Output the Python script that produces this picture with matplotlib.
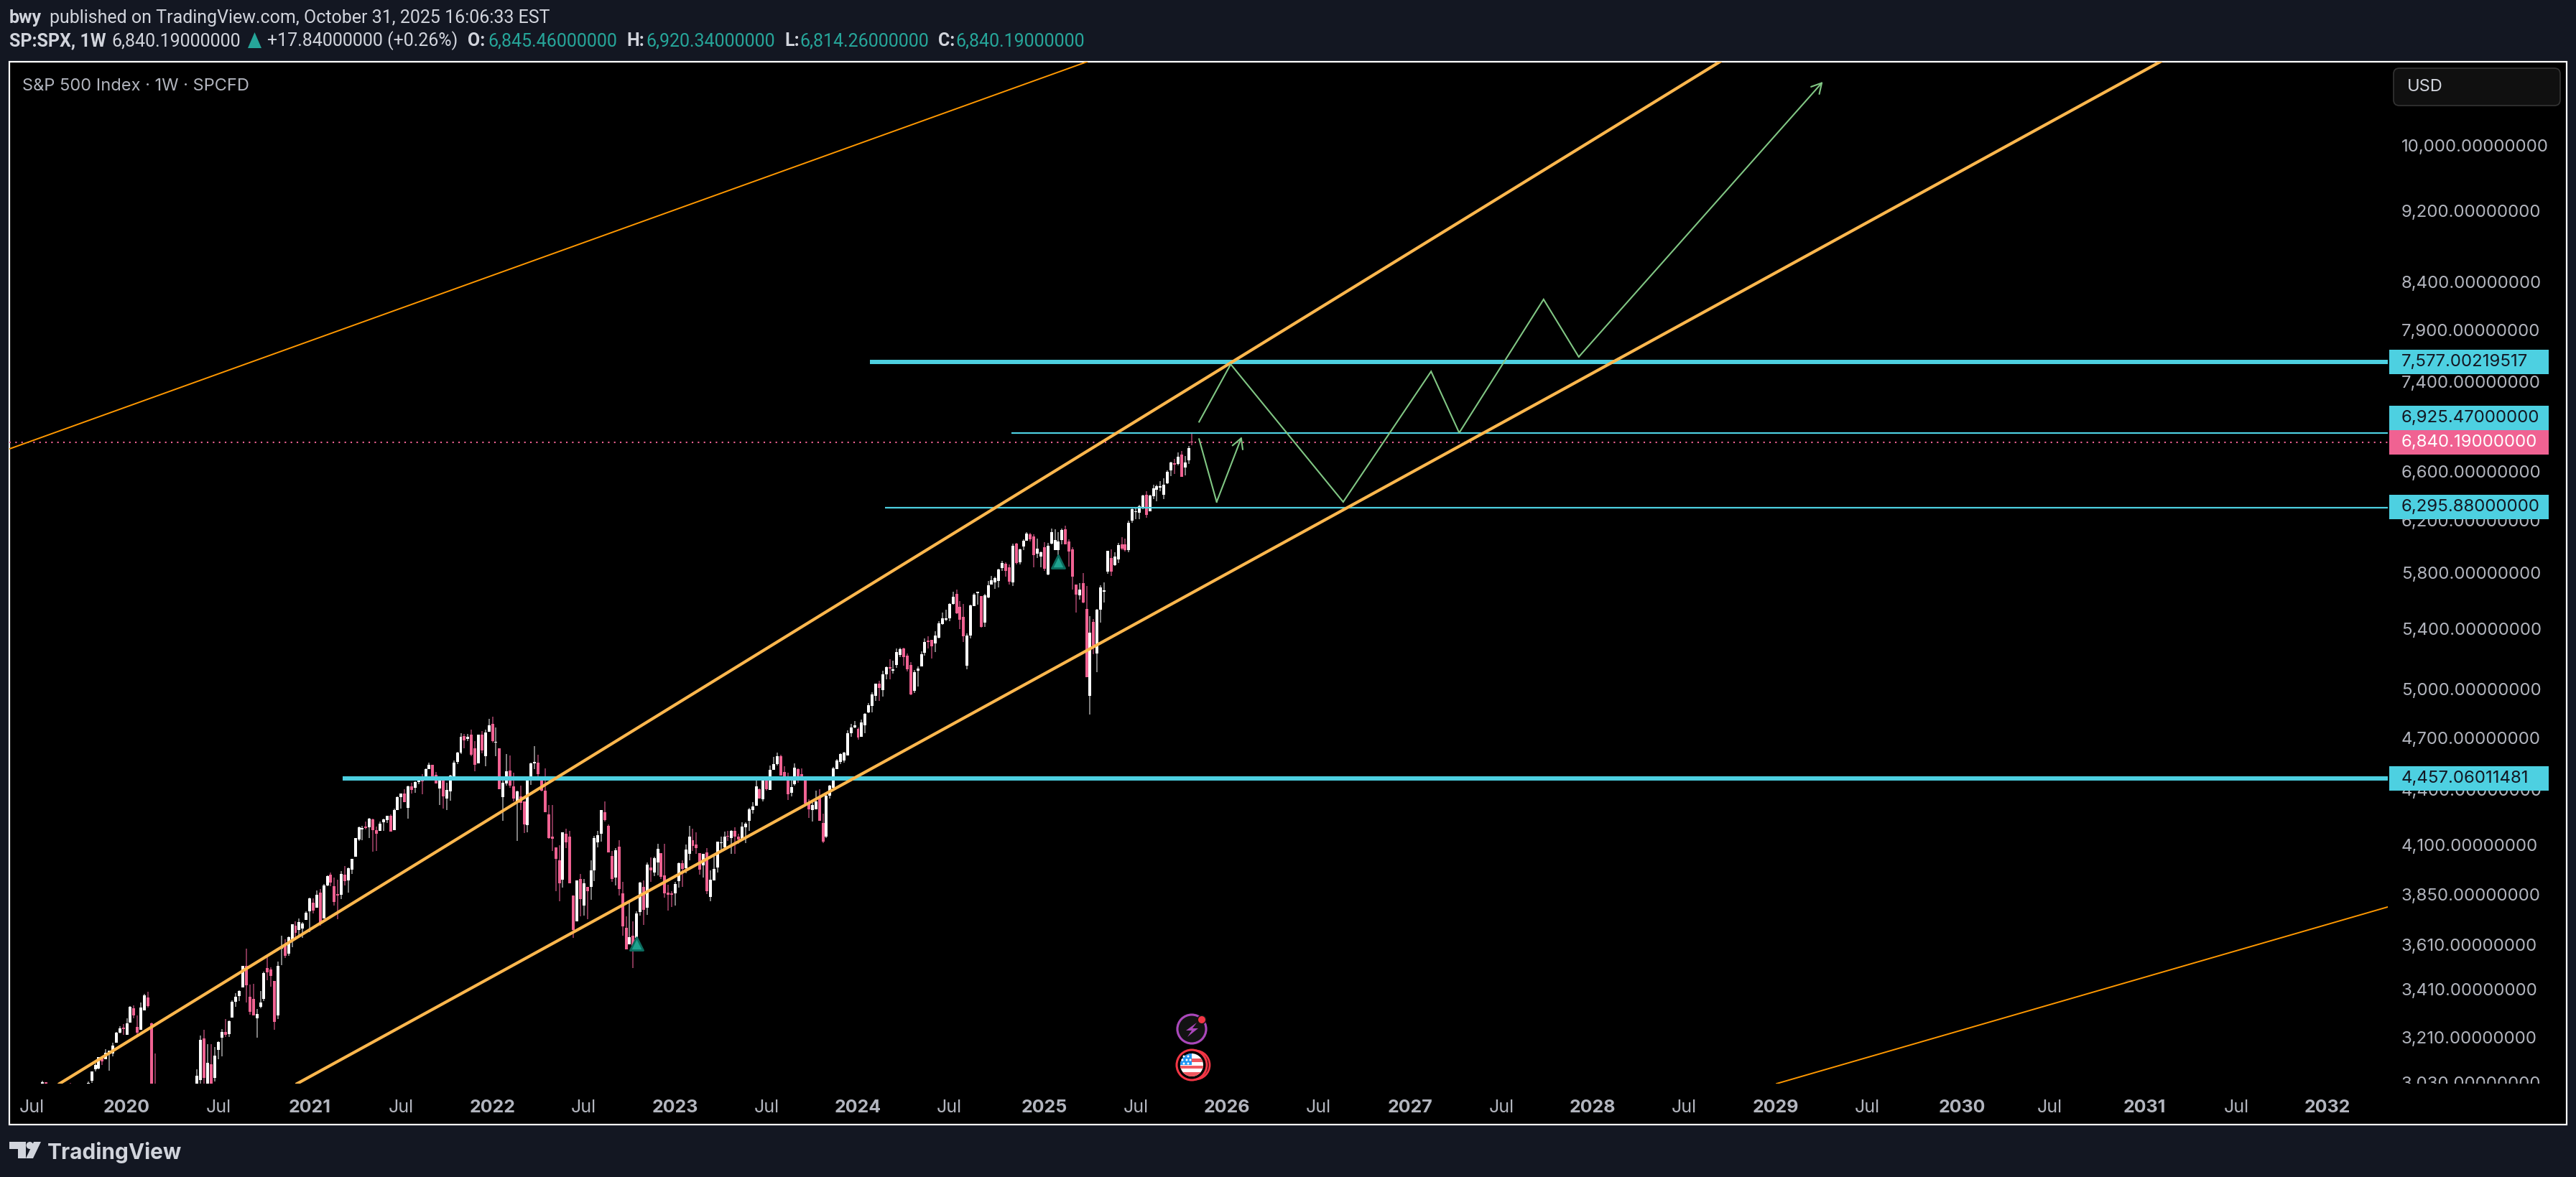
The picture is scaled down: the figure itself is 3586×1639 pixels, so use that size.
import numpy as np
import pandas as pd
import matplotlib
matplotlib.use("Agg")
import matplotlib.pyplot as plt
import matplotlib.dates as mdates
from matplotlib.patches import Circle, Polygon, Rectangle, FancyBboxPatch
from matplotlib.transforms import Bbox

plt.rcParams['font.family'] = ['Inter', 'DejaVu Sans']

# weekly candles, newest first. None = bar is below the visible price range
last_week = '2025-10-27'
opens = [
    6845.46, 6687, 6625, 6737, 6656, 6662, 6602, 6495, 6400, 6460,
    6442, 6389, 6267, 6401, 6296, 6256, 6258, 6194, 5965, 6008,
    6008, 5894, 5851, 5905, 5802, 5658, 5527, 5228, 5443, 4954,
    5532, 5719, 5631, 5708, 5970, 6030, 6125, 6041, 5965, 5965,
    6014, 5781, 5986, 5916, 5937, 6068, 6085, 6036, 5992, 5873,
    6014, 5724, 5835, 5862, 5829, 5734, 5724, 5708, 5615, 5438,
    5625, 5647, 5553, 5349, 5148, 5477, 5548, 5641, 5568, 5467,
    5459, 5428, 5334, 5295, 5320, 5315, 5233, 5144, 5115, 4985,
    5152, 5214, 5261, 5219, 5152, 5116, 5138, 5091, 4990, 5030,
    4954, 4891, 4851, 4772, 4703, 4750, 4758, 4723, 4590, 4560,
    4553, 4512, 4405, 4362, 4138, 4213, 4358, 4287, 4283, 4319,
    4446, 4484, 4512, 4426, 4377, 4463, 4496, 4586, 4541, 4508,
    4393, 4455, 4342, 4397, 4307, 4283, 4225, 4189, 4126, 4141,
    4171, 4134, 4145, 4085, 4104, 3981, 3916, 3833, 4058, 3991,
    4054, 4099, 4122, 4051, 3976, 4002, 3912, 3850, 3850, 3855,
    3941, 4054, 4006, 3955, 3981, 3782, 3883, 3761, 3638, 3648,
    3609, 3686, 3851, 4088, 3929, 4039, 4197, 4270, 4156, 4111,
    3966, 3883, 3883, 3791, 3922, 3717, 3840, 4138, 4156, 3920,
    4017, 4085, 4138, 4260, 4389, 4464, 4549, 4545, 4459, 4201,
    4330, 4358, 4330, 4414, 4504, 4430, 4354, 4633, 4665, 4780,
    4733, 4586, 4715, 4545, 4633, 4715, 4689, 4706, 4607, 4553,
    4463, 4385, 4346, 4451, 4401, 4480, 4537, 4512, 4451, 4463,
    4438, 4405, 4414, 4295, 4373, 4354, 4283, 4174, 4252, 4229,
    4217, 4171, 4175, 4233, 4189, 4193, 4178, 4126, 4036, 3970,
    3916, 3945, 3844, 3847, 3887, 3945, 3889, 3731, 3855, 3782,
    3806, 3765, 3724, 3683, 3676, 3696, 3631, 3567, 3606, 3588,
    3297, 3445, 3495, 3501, 3367, 3333, 3285, 3366, 3376, 3511,
    3415, 3379, 3355, 3288, 3219, 3228, 3204, 3155, 3045, 3097,
    3010, 3201, 3037, 3000] + [None] * 11 + [
    2974, 3262, 3373, 3317, 3237, 3249, 3326, 3267, 3216, 3246,
    3225, 3183, 3140, 3146, 3117, 3120, 3082, 3079, 3033, 3000] + [None] * 4 + [
    2990] + [None] * 6 + [3027, 3010]
highs = [
    6920.34, 6811, 6724, 6768, 6755, 6699, 6675, 6602, 6537, 6513,
    6483, 6483, 6401, 6430, 6401, 6318, 6296, 6290, 6194, 6052,
    6063, 6019, 5948, 5970, 5959, 5724, 5704, 5532, 5463, 5482,
    5698, 5791, 5719, 5708, 5985, 6046, 6153, 6130, 6102, 6125,
    6130, 6019, 6025, 5954, 6052, 6085, 6096, 6102, 6046, 5976,
    6019, 6014, 5857, 5872, 5884, 5824, 5765, 5770, 5734, 5641,
    5625, 5656, 5646, 5563, 5364, 5568, 5589, 5672, 5656, 5573,
    5527, 5507, 5448, 5379, 5320, 5344, 5329, 5243, 5144, 5119,
    5171, 5228, 5266, 5266, 5261, 5182, 5191, 5144, 5115, 5049,
    5030, 4977, 4909, 4846, 4806, 4758, 4797, 4780, 4740, 4610,
    4603, 4570, 4525, 4422, 4374, 4264, 4397, 4389, 4327, 4342,
    4471, 4516, 4516, 4545, 4463, 4492, 4529, 4595, 4607, 4582,
    4533, 4459, 4463, 4401, 4451, 4327, 4295, 4217, 4217, 4156,
    4190, 4175, 4171, 4167, 4138, 4115, 4043, 3966, 4081, 4051,
    4054, 4164, 4180, 4197, 4099, 4017, 4006, 3908, 3862, 3894,
    4103, 4054, 4103, 4036, 4032, 4006, 3916, 3908, 3765, 3717,
    3809, 3741, 3908, 4122, 4081, 4066, 4205, 4330, 4283, 4171,
    4145, 4017, 3883, 3922, 3948, 3916, 3840, 4171, 4182, 4164,
    4095, 4085, 4310, 4310, 4515, 4472, 4597, 4644, 4549, 4464,
    4330, 4418, 4389, 4492, 4590, 4599, 4455, 4633, 4756, 4824,
    4810, 4745, 4737, 4715, 4677, 4745, 4719, 4719, 4723, 4610,
    4562, 4480, 4434, 4459, 4463, 4496, 4537, 4549, 4516, 4484,
    4471, 4442, 4434, 4418, 4397, 4373, 4358, 4291, 4260, 4252,
    4237, 4221, 4193, 4237, 4241, 4221, 4197, 4193, 4133, 4024,
    3981, 3988, 3962, 3919, 3931, 3956, 3941, 3897, 3873, 3865,
    3827, 3830, 3765, 3713, 3731, 3717, 3703, 3646, 3631, 3649,
    3530, 3445, 3504, 3555, 3485, 3400, 3324, 3433, 3430, 3590,
    3511, 3404, 3392, 3360, 3276, 3282, 3240, 3189, 3166, 3177,
    3177, 3237, 3213, 3078] + [None] * 11 + [
    3141, 3265, 3398, 3389, 3351, 3295, 3339, 3336, 3283, 3261,
    3252, 3228, 3183, 3152, 3157, 3129, 3125, 3100, 3070, 3031] + [None] * 4 + [
    3025] + [None] * 6 + [3027, 3033]
lows = [
    6814.26, 6656, 6560, 6548, 6643, 6572, 6554, 6489, 6365, 6430,
    6347, 6365, 6267, 6216, 6284, 6205, 6205, 6177, 5949, 5954,
    5965, 5867, 5846, 5770, 5786, 5579, 5438, 5106, 5223, 4837,
    5072, 5574, 5600, 5507, 5672, 5841, 6008, 6008, 5927, 5965,
    6008, 5776, 5805, 5832, 5905, 5832, 6030, 6036, 5965, 5857,
    5857, 5698, 5708, 5764, 5808, 5687, 5677, 5708, 5610, 5408,
    5403, 5563, 5553, 5329, 5124, 5305, 5393, 5497, 5563, 5448,
    5448, 5423, 5329, 5238, 5196, 5261, 5214, 5144, 5011, 4971,
    4959, 5110, 5147, 5205, 5133, 5096, 5058, 5058, 4950, 4923,
    4923, 4851, 4846, 4721, 4703, 4685, 4754, 4703, 4590, 4547,
    4541, 4512, 4397, 4346, 4134, 4104, 4225, 4287, 4221, 4240,
    4319, 4451, 4434, 4418, 4358, 4338, 4446, 4475, 4533, 4508,
    4393, 4389, 4330, 4346, 4307, 4264, 4169, 4104, 4122, 4103,
    4051, 4051, 4119, 4078, 4074, 3956, 3916, 3812, 3847, 3930,
    3944, 4051, 4066, 4017, 3951, 3883, 3880, 3792, 3785, 3768,
    3830, 3923, 3941, 3937, 3908, 3748, 3700, 3744, 3638, 3501,
    3609, 3585, 3648, 3840, 3889, 3908, 4058, 4221, 4115, 4085,
    3912, 3819, 3726, 3744, 3741, 3717, 3638, 3901, 4078, 3880,
    3812, 3862, 4066, 4130, 4272, 4385, 4451, 4512, 4422, 4162,
    4158, 4283, 4119, 4330, 4405, 4418, 4223, 4397, 4586, 4669,
    4733, 4529, 4603, 4545, 4500, 4586, 4677, 4633, 4599, 4541,
    4451, 4332, 4283, 4291, 4311, 4430, 4459, 4512, 4451, 4370,
    4426, 4377, 4373, 4237, 4326, 4291, 4283, 4174, 4166, 4213,
    4171, 4171, 4066, 4062, 4134, 4178, 4122, 4118, 4036, 3948,
    3855, 3890, 3823, 3727, 3791, 3887, 3887, 3731, 3696, 3782,
    3754, 3665, 3724, 3639, 3648, 3636, 3596, 3557, 3547, 3514,
    3282, 3237, 3420, 3446, 3358, 3327, 3205, 3297, 3300, 3351,
    3415, 3358, 3333, 3288, 3207, 3207, 3129, 3118, 3030, 3000,
    3000, 3015, 3020, 2990] + [None] * 11 + [
    2855, 2855, 3330, 3317, 3237, 3216, 3285, 3267, 3216, 3216,
    3222, 3183, 3129, 3072, 3117, 3095, 3079, 3070, 3025, 2990] + [None] * 4 + [
    2960] + [None] * 6 + [3000, 3000]
closes = [
    6840.19, 6793, 6669, 6548, 6718, 6651, 6669, 6590, 6483, 6472,
    6472, 6454, 6395, 6239, 6395, 6307, 6267, 6284, 6177, 5965,
    5976, 6003, 5916, 5802, 5959, 5665, 5688, 5527, 5280, 5369,
    5072, 5579, 5672, 5636, 5765, 5954, 6008, 6119, 6030, 6041,
    6102, 5997, 5821, 5948, 5976, 5927, 6046, 6091, 6036, 5970,
    5867, 5997, 5729, 5807, 5867, 5818, 5755, 5738, 5703, 5630,
    5408, 5656, 5636, 5558, 5349, 5344, 5457, 5502, 5620, 5568,
    5467, 5467, 5433, 5349, 5275, 5306, 5305, 5224, 5129, 5105,
    4963, 5124, 5205, 5256, 5237, 5124, 5130, 5138, 5091, 5003,
    5030, 4963, 4896, 4842, 4789, 4698, 4770, 4758, 4723, 4607,
    4599, 4562, 4516, 4418, 4362, 4115, 4225, 4330, 4311, 4287,
    4319, 4451, 4455, 4520, 4409, 4370, 4463, 4475, 4586, 4541,
    4508, 4397, 4455, 4346, 4413, 4303, 4287, 4209, 4193, 4126,
    4138, 4171, 4138, 4141, 4111, 4115, 3973, 3920, 3862, 4051,
    3970, 4081, 4092, 4141, 4073, 3973, 4002, 3897, 3844, 3844,
    3851, 3934, 4076, 4028, 3966, 3995, 3772, 3905, 3754, 3582,
    3641, 3585, 3693, 3873, 4069, 3922, 4058, 4229, 4283, 4148,
    4134, 3966, 3862, 3901, 3823, 3916, 3676, 3901, 4108, 4164,
    3901, 4024, 4130, 4134, 4272, 4389, 4484, 4553, 4545, 4464,
    4205, 4322, 4385, 4346, 4418, 4500, 4434, 4397, 4672, 4677,
    4771, 4728, 4619, 4715, 4537, 4595, 4702, 4680, 4702, 4607,
    4549, 4475, 4393, 4358, 4459, 4430, 4459, 4537, 4512, 4442,
    4471, 4438, 4393, 4414, 4326, 4373, 4354, 4283, 4166, 4252,
    4233, 4209, 4156, 4175, 4237, 4185, 4185, 4190, 4133, 4024,
    3977, 3912, 3948, 3840, 3808, 3904, 3937, 3890, 3713, 3844,
    3768, 3827, 3758, 3707, 3713, 3662, 3703, 3642, 3557, 3593,
    3511, 3270, 3465, 3482, 3478, 3351, 3303, 3297, 3312, 3425,
    3511, 3401, 3376, 3355, 3273, 3216, 3228, 3186, 3132, 3020,
    3103, 3045, 3195, 3053] + [None] * 11 + [
    2972, 2954, 3336, 3383, 3330, 3225, 3297, 3333, 3264, 3240,
    3243, 3225, 3172, 3152, 3143, 3109, 3125, 3095, 3070, 3025] + [None] * 4 + [
    2980] + [None] * 6 + [3005, 3027]

# drawings
upper_channel_dates = ['2019-08-25', '2028-09-12']
upper_channel_prices = [3022, 11110]
lower_channel_dates = ['2020-12-10', '2031-02-06']
lower_channel_prices = [3022, 11110]
thin_top_dates = ['2019-05-17', '2025-04-01']
thin_top_prices = [6784, 11110]
thin_bottom_dates = ['2029-01-03', '2032-05-04']
thin_bottom_prices = [3022, 3785]

level_7577_start = '2024-01-25'
level_6925_start = '2024-11-02'
level_6296_start = '2024-02-23'
level_4457_start = '2021-03-10'
level_7577 = 7577.00219517
level_6925 = 6925.47
level_6296 = 6295.88
level_4457 = 4457.06011481
last_close = 6840.19

path_long_dates = ['2025-11-10', '2026-01-12', '2026-08-24', '2027-02-15', '2027-04-12',
                   '2027-09-27', '2027-12-06', '2029-04-05']
path_long_prices = [7022, 7557, 6341, 7488, 6925, 8208, 7628, 10830]
path_short_dates = ['2025-11-10', '2025-12-15', '2026-02-03']
path_short_prices = [6870, 6341, 6890]

signal_dates = ['2025-02-03', '2022-10-17']
signal_prices = [5877, 3612]

# axis
year_ticks = ['2020-01-06', '2021-01-04', '2022-01-03', '2023-01-02', '2024-01-01', '2025-01-06',
              '2026-01-05', '2027-01-04', '2028-01-03', '2029-01-01', '2030-01-07', '2031-01-06',
              '2032-01-05']
year_labels = ['2020', '2021', '2022', '2023', '2024', '2025', '2026', '2027', '2028', '2029',
               '2030', '2031', '2032']
jul_ticks = ['2019-07-01', '2020-07-06', '2021-07-05', '2022-07-04', '2023-07-03', '2024-07-01',
             '2025-07-07', '2026-07-06', '2027-07-05', '2028-07-03', '2029-07-02', '2030-07-01',
             '2031-07-07']
price_ticks = [10000, 9200, 8400, 7900, 7400, 6600, 6200, 5800, 5400, 5000, 4700, 4400, 4100,
               3850, 3610, 3410, 3210, 3030]

BG = '#131722'
CYAN = '#4dd0e1'
ORANGE = '#ffb74d'
ORANGE_THIN = '#ff9800'
GREEN = '#81c784'
PINK = '#f06292'
GREY = '#b2b5be'
LIGHT = '#d1d4dc'
TEAL = '#26a69a'
HEAD_FONT = ['Roboto', 'DejaVu Sans']


def num(dates):
    return mdates.date2num(pd.to_datetime(dates))


fig = plt.figure(figsize=(35.86, 16.40), dpi=100, facecolor=BG)

# pixel space layers for the page around the chart
back = fig.add_axes([0, 0, 1, 1], zorder=0)
back.set_xlim(0, 3586)
back.set_ylim(1640, 0)
back.axis('off')
back.add_patch(Rectangle((13, 87), 3560, 1480, facecolor='#000000', edgecolor='white', linewidth=1.6))

ax = fig.add_axes([13 / 3586, 130 / 1640, 3311 / 3586, 1423 / 1640], zorder=2)
ax.set_facecolor('none')
for s in ax.spines.values():
    s.set_visible(False)
ax.set_yscale('log')
ax.set_xlim(num('2019-05-17'), num('2032-05-04'))
ax.set_ylim(3022, 11110)

# candles
o = np.array(opens, dtype=float)
h = np.array(highs, dtype=float)
l = np.array(lows, dtype=float)
c = np.array(closes, dtype=float)
weeks = num(pd.date_range(end=last_week, periods=len(o), freq='7D')[::-1])
keep = ~np.isnan(o)
up = (c >= o) & keep
down = (c < o) & keep
ax.vlines(weeks[up], l[up], h[up], color='#a6a6a6', linewidth=1.1, zorder=2)
ax.vlines(weeks[down], l[down], h[down], color='#a8446c', linewidth=1.1, zorder=2)
ax.bar(weeks[up], (c - o)[up], bottom=o[up], width=5.7, color='#ffffff', linewidth=0, zorder=3)
ax.bar(weeks[down], (o - c)[down], bottom=c[down], width=5.7, color=PINK, linewidth=0, zorder=3)

ax.scatter(num(signal_dates), signal_prices, marker='^', s=170, color='#1fa38f',
           edgecolors='#0c6b5e', linewidths=2, zorder=4)

# trend lines
right_end = num('2032-05-04')
ax.plot(num(upper_channel_dates), upper_channel_prices, color=ORANGE, lw=3.0, zorder=6)
ax.plot(num(lower_channel_dates), lower_channel_prices, color=ORANGE, lw=3.0, zorder=6)
ax.plot(num(thin_top_dates), thin_top_prices, color=ORANGE_THIN, lw=1.4, zorder=6)
ax.plot(num(thin_bottom_dates), thin_bottom_prices, color=ORANGE_THIN, lw=1.4, zorder=6)

# levels
ax.hlines(level_7577, num(level_7577_start), right_end, color=CYAN, lw=4.3, zorder=5)
ax.hlines(level_4457, num(level_4457_start), right_end, color=CYAN, lw=4.3, zorder=5)
ax.hlines(level_6925, num(level_6925_start), right_end, color=CYAN, lw=1.6, zorder=5)
ax.hlines(level_6296, num(level_6296_start), right_end, color=CYAN, lw=1.6, zorder=5)
ax.plot(ax.get_xlim(), [last_close, last_close], color=PINK, lw=1.5, ls=(0, (1, 3)), zorder=4)

# projected paths with open arrow heads
for dates, prices in [(path_long_dates, path_long_prices), (path_short_dates, path_short_prices)]:
    xs = num(dates)
    ax.plot(xs[:-1], prices[:-1], color=GREEN, lw=1.5, zorder=7, solid_joinstyle='miter')
    ax.annotate('', xy=(xs[-1], prices[-1]), xytext=(xs[-2], prices[-2]), zorder=7,
                arrowprops=dict(arrowstyle='->,head_length=1.0,head_width=0.55', mutation_scale=10,
                                color=GREEN, lw=1.5, shrinkA=0, shrinkB=0))

# axes ticks
ax.set_xticks(num(year_ticks + jul_ticks), labels=year_labels + ['Jul'] * len(jul_ticks))
ax.tick_params(axis='x', length=0, pad=15, labelsize=18, labelcolor=GREY)
for lab in ax.get_xticklabels():
    if lab.get_text() != 'Jul':
        lab.set_fontweight('bold')
ax.yaxis.tick_right()
ax.set_yticks(price_ticks, labels=[f'{p:,.8f}' for p in price_ticks])
ax.minorticks_off()
ax.tick_params(axis='y', length=0, pad=13.5, labelsize=17.3, labelcolor=GREY)
# the lowest price label gets cut off by the end of the price scale
for lab in ax.get_yticklabels():
    lab.set_clip_on(True)
    lab.set_clip_box(Bbox([[0, 130], [3586, 1553]]))

# price labels, title, header, logo
ui = fig.add_axes([0, 0, 1, 1], zorder=3)
ui.set_xlim(0, 3586)
ui.set_ylim(1640, 0)
ui.axis('off')
ui.patch.set_alpha(0)

value_boxes = [
    ('7,577.00219517', 505, CYAN, BG),
    ('6,925.47000000', 583, CYAN, BG),
    ('6,840.19000000', 617, PINK, 'white'),
    ('6,295.88000000', 707, CYAN, BG),
    ('4,457.06011481', 1085, CYAN, BG),
]
for text, y, fill, ink in value_boxes:
    ui.add_patch(Rectangle((3326, y - 16.7), 222, 33.4, facecolor=fill, linewidth=0))
    ui.text(3343, y - 1, text, color=ink, fontsize=17.3, va='center', ha='left')

ui.add_patch(FancyBboxPatch((3336, 100), 224, 44, boxstyle='round,pad=4,rounding_size=8',
                            facecolor='#101010', edgecolor='#343434', linewidth=1.2))
ui.text(3351, 121, 'USD', color=LIGHT, fontsize=17, va='center', ha='left')

ui.text(31, 120, 'S&P 500 Index · 1W · SPCFD', color=GREY, fontsize=17, va='center', ha='left')

ui.text(13, 25, 'bwy', color=LIGHT, fontsize=18, fontweight='bold', va='center', family=HEAD_FONT)
ui.text(69, 25, 'published on TradingView.com, October 31, 2025 16:06:33 EST', color=LIGHT,
        fontsize=18, va='center', family=HEAD_FONT)
row = 57
ui.text(13, row, 'SP:SPX, 1W', color=LIGHT, fontsize=18, fontweight='bold', va='center', family=HEAD_FONT)
ui.text(155, row, '6,840.19000000', color=LIGHT, fontsize=18, va='center', family=HEAD_FONT)
ui.add_patch(Polygon([[345, 68], [364, 68], [354.5, 46]], facecolor=TEAL, linewidth=0))
ui.text(372, row, '+17.84000000 (+0.26%)', color=LIGHT, fontsize=18, va='center', family=HEAD_FONT)
for name, x_name, val, x_val in [('O:', 651, '6,845.46000000', 679), ('H:', 872, '6,920.34000000', 899),
                                 ('L:', 1092, '6,814.26000000', 1113), ('C:', 1306, '6,840.19000000', 1330)]:
    ui.text(x_name, row, name, color=LIGHT, fontsize=18, fontweight='bold', va='center', family=HEAD_FONT)
    ui.text(x_val, row, val, color=TEAL, fontsize=18, va='center', family=HEAD_FONT)

# TradingView mark
ui.add_patch(Polygon([[13, 1591], [36, 1591], [36, 1614], [25, 1614], [25, 1601], [13, 1601]],
                     facecolor=LIGHT, linewidth=0))
ui.add_patch(Circle((41.5, 1596), 5, facecolor=LIGHT, linewidth=0))
ui.add_patch(Polygon([[47, 1591], [57, 1591], [46, 1614], [36, 1614]], facecolor=LIGHT, linewidth=0))
ui.text(66, 1614, 'TradingView', color=LIGHT, fontsize=21.5, fontweight='bold', va='baseline')

# earnings and economic event badges under the last bar
ui.add_patch(Circle((1659, 1434), 22, facecolor='#131313', linewidth=0))
ui.add_patch(Circle((1659, 1434), 20, facecolor='none', edgecolor='#ab47bc', linewidth=2.2))
ui.add_patch(Polygon([[1666, 1425], [1651, 1436], [1659, 1436], [1653, 1445], [1668, 1433], [1660, 1433]],
                     facecolor='#ab47bc', linewidth=0))
ui.add_patch(Circle((1673, 1421), 6.5, facecolor='#131313', linewidth=0))
ui.add_patch(Circle((1673, 1421), 5, facecolor='#f23645', linewidth=0))

ui.add_patch(Circle((1664, 1484), 20, facecolor='none', edgecolor='#f23645', linewidth=2))
ui.add_patch(Circle((1659, 1484), 21, facecolor='#000000', edgecolor='#f23645', linewidth=2.2))
flag = Circle((1659, 1484), 16, facecolor='white', linewidth=0)
ui.add_patch(flag)
for top, height in [(1475, 5), (1485, 4), (1494, 7)]:
    stripe = Rectangle((1642, top), 34, height, facecolor='#f0575f', linewidth=0)
    ui.add_patch(stripe)
    stripe.set_clip_path(flag)
canton = Rectangle((1642, 1467), 17, 17, facecolor='#2196f3', linewidth=0)
ui.add_patch(canton)
canton.set_clip_path(flag)
for sx, sy in [(1648, 1472), (1654, 1472), (1646, 1477), (1652, 1477), (1657, 1477), (1648, 1482), (1654, 1482)]:
    ui.add_patch(Circle((sx, sy), 1.5, facecolor='white', linewidth=0))

fig.savefig('out.png', dpi=100, facecolor=BG)
